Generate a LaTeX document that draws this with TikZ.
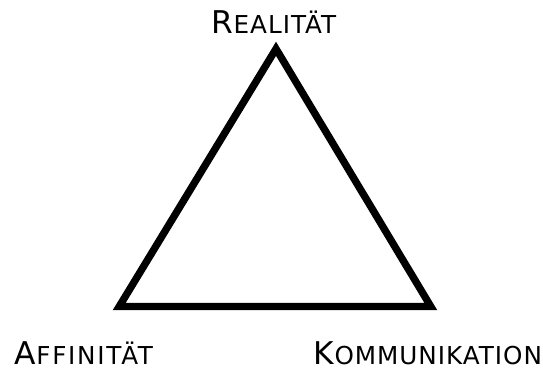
\documentclass[tikz,border=0pt]{standalone}
\usepackage{fontspec}
\setmainfont{DejaVu Sans}[LetterSpace=4]
\newcommand{\fakesc}[2]{{\fontsize{23.5}{24}\selectfont #1}{\fontsize{18.5}{20}\selectfont #2}}

\tikzset{every picture/.style={line width=0.75pt}}

\begin{document}
\begin{tikzpicture}[
            x=0.75pt,
            y=0.75pt,
            yscale=-1,
            xscale=1,
            every node/.style={text=black},
            lbl/.style={inner sep=0pt, anchor=base, text depth=0pt},
            edge/.style={draw=black, line width=5.5pt, line join=miter}
        ]
            \useasboundingbox (0,0) rectangle (543,371);

            \coordinate (top) at (276,48.8);
            \coordinate (left) at (119.2,306.5);
            \coordinate (right) at (430.8,306.5);
            \draw [edge] (top) -- (left) -- (right) -- cycle;

            \node (real) [lbl] at (274,33) {\fakesc{R}{EALITÄT}};
            \node (aff) [lbl] at (84,364.5) {\fakesc{A}{\addfontfeature{LetterSpace=7}FFINITÄT}};
            \node (komm) [lbl] at (428,364.5) {\fakesc{K}{OMMUNIKATION}};
        \end{tikzpicture}
\end{document}
